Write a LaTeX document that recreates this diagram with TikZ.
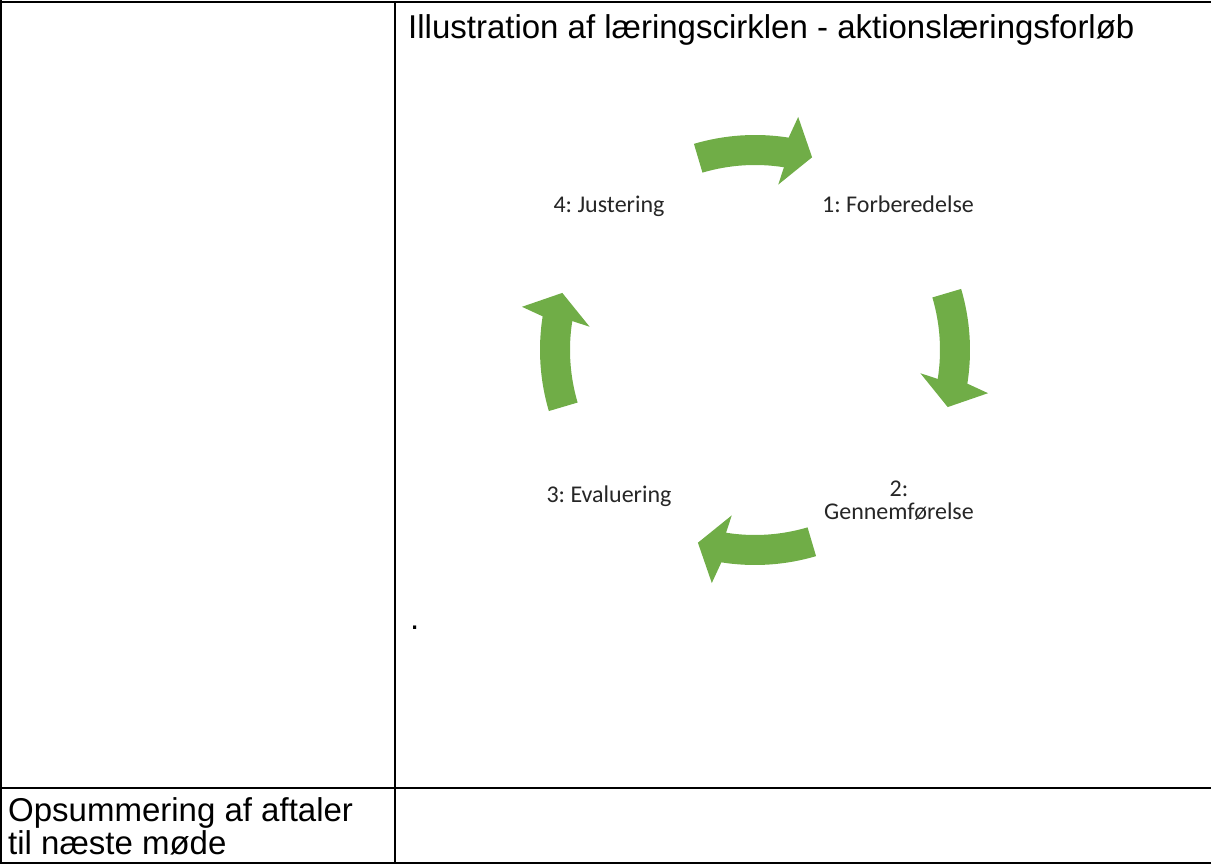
\documentclass[tikz,border=0pt]{standalone}
\usepackage{fontspec}
\setmainfont{Liberation Sans}
\newfontfamily\carlito{Carlito}
\definecolor{cyclegreen}{RGB}{112,173,71}
\frenchspacing
\begin{document}
\begin{tikzpicture}[x=1pt,y=1pt,
  tableline/.style={line width=2pt,black},
  bigtext/.style={font=\fontsize{33}{37}\selectfont,inner sep=0pt},
  steplabel/.style={font=\carlito\fontsize{24}{23}\selectfont\frenchspacing,inner sep=0pt,align=center,text=black!85},
  cyclearrow/.style={fill=cyclegreen}]
\useasboundingbox (0,0) rectangle (1211,865);
% table
\draw[tableline] (1,865) -- (1,1);
\draw[tableline] (0,863) -- (1211,863);
\draw[tableline] (0,2) -- (1211,2);
\draw[tableline] (395,863) -- (395,1);
\draw[tableline] (0,77) -- (1211,77);
% texts
\node[bigtext,anchor=base west] (title) at (408,826) {Illustration af læringscirklen - aktionslæringsforløb};
\node[bigtext,anchor=base west] (summary1) at (8,43) {Opsummering af aftaler};
\node[bigtext,anchor=base west] (summary2) at (8,10) {til næste møde};
\node[bigtext,anchor=base west] (dot) at (410,235) {.};
% cycle
\coordinate (C) at (755,515);
\begin{scope}[shift={(C)}]
\foreach \t in {90,0,-90,180}{
  \fill[cyclearrow] (\t+16.5:215) arc[start angle=\t+16.5, end angle=\t-9, radius=215]
    -- (\t-10.5:237) -- (\t-16.5:201) -- (\t-8:167) -- (\t-9:185)
    arc[start angle=\t-9, end angle=\t+16.5, radius=185] -- cycle;
}
\end{scope}
\node[steplabel,anchor=base] (s1) at (898,652) {1: Forberedelse};
\node[steplabel,anchor=base] (s2a) at (899,368) {2:};
\node[steplabel,anchor=base] (s2b) at (899,345) {Gennemførelse};
\node[steplabel,anchor=base] (s3) at (609,362) {3: Evaluering};
\node[steplabel,anchor=base] (s4) at (609,652) {4: Justering};
\end{tikzpicture}
\end{document}
